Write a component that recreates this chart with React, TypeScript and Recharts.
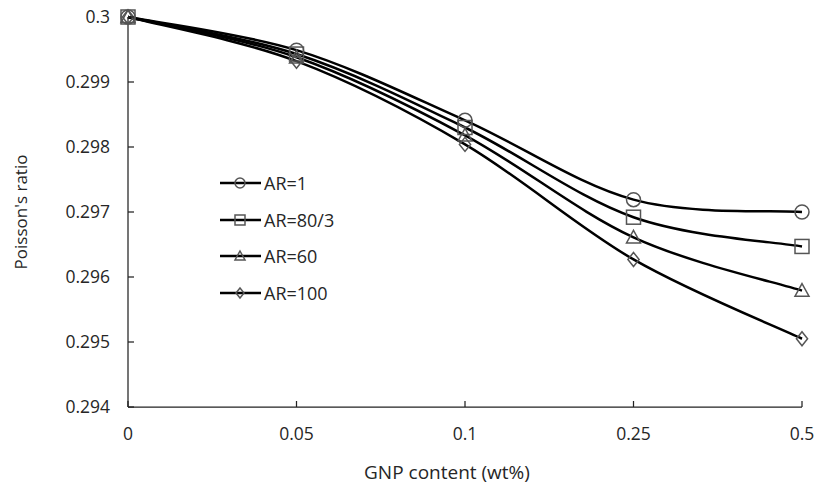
import { Legend, Line, LineChart, XAxis, YAxis } from "recharts";

const contents = ["0", "0.05", "0.1", "0.25", "0.5"];
const ar1 = [0.3, 0.29949, 0.29841, 0.29719, 0.297];
const ar80by3 = [0.3, 0.29943, 0.29830, 0.29692, 0.29647];
const ar60 = [0.3, 0.29938, 0.29818, 0.29661, 0.29579];
const ar100 = [0.3, 0.29932, 0.29804, 0.29627, 0.29505];
const yTicks = [0.294, 0.295, 0.296, 0.297, 0.298, 0.299, 0.3];

type Shape = "circle" | "square" | "triangle" | "diamond";

const series: { key: string; name: string; shape: Shape; values: number[] }[] = [
  { key: "ar1", name: "AR=1", shape: "circle", values: ar1 },
  { key: "ar80", name: "AR=80/3", shape: "square", values: ar80by3 },
  { key: "ar60", name: "AR=60", shape: "triangle", values: ar60 },
  { key: "ar100", name: "AR=100", shape: "diamond", values: ar100 }
];

const data = contents.map((label, i) => {
  const row: Record<string, number | string> = { label };
  series.forEach((s) => {
    row[s.key] = s.values[i];
  });
  return row;
});

const FONT = "'Open Sans', sans-serif";
const TEXT = "#262626";
const MARKER = "#555";

// Excel-style smoothing (cardinal spline, tension 1/6)
function excelSmooth(context: any) {
  let pts: [number, number][] = [];
  return {
    areaStart() {},
    areaEnd() {},
    lineStart() {
      pts = [];
    },
    lineEnd() {
      if (!pts.length) return;
      context.moveTo(pts[0][0], pts[0][1]);
      for (let i = 0; i < pts.length - 1; i++) {
        const p0 = pts[Math.max(i - 1, 0)];
        const p1 = pts[i];
        const p2 = pts[i + 1];
        const p3 = pts[Math.min(i + 2, pts.length - 1)];
        context.bezierCurveTo(
          p1[0] + (p2[0] - p0[0]) / 6,
          p1[1] + (p2[1] - p0[1]) / 6,
          p2[0] - (p3[0] - p1[0]) / 6,
          p2[1] - (p3[1] - p1[1]) / 6,
          p2[0],
          p2[1]
        );
      }
    },
    point(x: number, y: number) {
      pts.push([+x, +y]);
    }
  };
}

function Marker({ shape, cx, cy, size }: { shape: Shape; cx: number; cy: number; size: number }) {
  const h = size / 2;
  const common = { fill: "none", stroke: MARKER, strokeWidth: 1.5 };
  if (shape === "circle") return <circle cx={cx} cy={cy} r={h} {...common} />;
  if (shape === "square") return <rect x={cx - h} y={cy - h} width={size} height={size} {...common} />;
  if (shape === "triangle") {
    return <path d={`M${cx},${cy - h} L${cx + h},${cy + h * 0.8} L${cx - h},${cy + h * 0.8} Z`} {...common} />;
  }
  return <path d={`M${cx},${cy - h} L${cx + h * 0.8},${cy} L${cx},${cy + h} L${cx - h * 0.8},${cy} Z`} {...common} />;
}

const YTick = (props: any) => {
  const { x, y, payload } = props;
  return (
    <g>
      <line x1={x} x2={x + 6} y1={y} y2={y} stroke="#222" strokeWidth={1.25} />
      <text x={x - 18} y={y} dy={6} textAnchor="end" fontSize={17.5} fontFamily={FONT} fill={TEXT}>
        {String(Number(Number(payload.value).toFixed(3)))}
      </text>
    </g>
  );
};

const XTick = (props: any) => {
  const { x, y, payload } = props;
  return (
    <g>
      <line x1={x} x2={x} y1={y} y2={y - 6} stroke="#222" strokeWidth={1.25} />
      <text x={x} y={y + 33} textAnchor="middle" fontSize={17.5} fontFamily={FONT} fill={TEXT}>
        {payload.value}
      </text>
    </g>
  );
};

const LegendBox = () => (
  <div style={{ fontFamily: FONT, fontSize: 18, color: TEXT }}>
    {series.map((s) => (
      <div key={s.key} style={{ display: "flex", alignItems: "center", height: 36.5 }}>
        <svg width={44} height={14} style={{ display: "block" }}>
          <line x1={0} x2={41} y1={7} y2={7} stroke="#000" strokeWidth={2.5} />
          <Marker shape={s.shape} cx={20} cy={7} size={10} />
        </svg>
        <span>{s.name}</span>
      </div>
    ))}
  </div>
);

export default function App() {
  return (
    <div style={{ position: "absolute", left: 0, top: 0, width: 817, height: 488, background: "#fff" }}>
      <LineChart width={817} height={488} data={data} margin={{ top: 17, right: 15, bottom: 0, left: 0 }}>
        <XAxis
          dataKey="label"
          height={81}
          tickSize={0}
          tickMargin={0}
          tick={<XTick />}
          axisLine={{ stroke: "#222", strokeWidth: 1.25 }}
          tickLine={false}
          label={{ value: "GNP content (wt%)", position: "insideBottom", offset: 9, dx: -18, fontSize: 19, fontFamily: FONT, fill: TEXT }}
        />
        <YAxis
          width={128}
          domain={[0.294, 0.3]}
          ticks={yTicks}
          tickSize={0}
          tickMargin={0}
          tick={<YTick />}
          axisLine={{ stroke: "#222", strokeWidth: 1.25 }}
          tickLine={false}
          label={{ value: "Poisson's ratio", angle: -90, position: "insideLeft", dx: 16, dy: 0, fontSize: 17, fontFamily: FONT, fill: TEXT, style: { textAnchor: "middle" } }}
        />
        <Legend
          layout="vertical"
          align="center"
          verticalAlign="middle"
          content={<LegendBox />}
          wrapperStyle={{ position: "absolute", left: 220, top: 165, width: 150 }}
        />
        {series.map((s) => (
          <Line
            key={s.key}
            dataKey={s.key}
            name={s.name}
            type={excelSmooth as any}
            stroke="#000"
            strokeWidth={2.5}
            isAnimationActive={false}
            dot={(p: any) => <Marker key={`${s.key}-${p.index}`} shape={s.shape} cx={p.cx} cy={p.cy} size={14} />}
            activeDot={false}
          />
        ))}
      </LineChart>
    </div>
  );
}
